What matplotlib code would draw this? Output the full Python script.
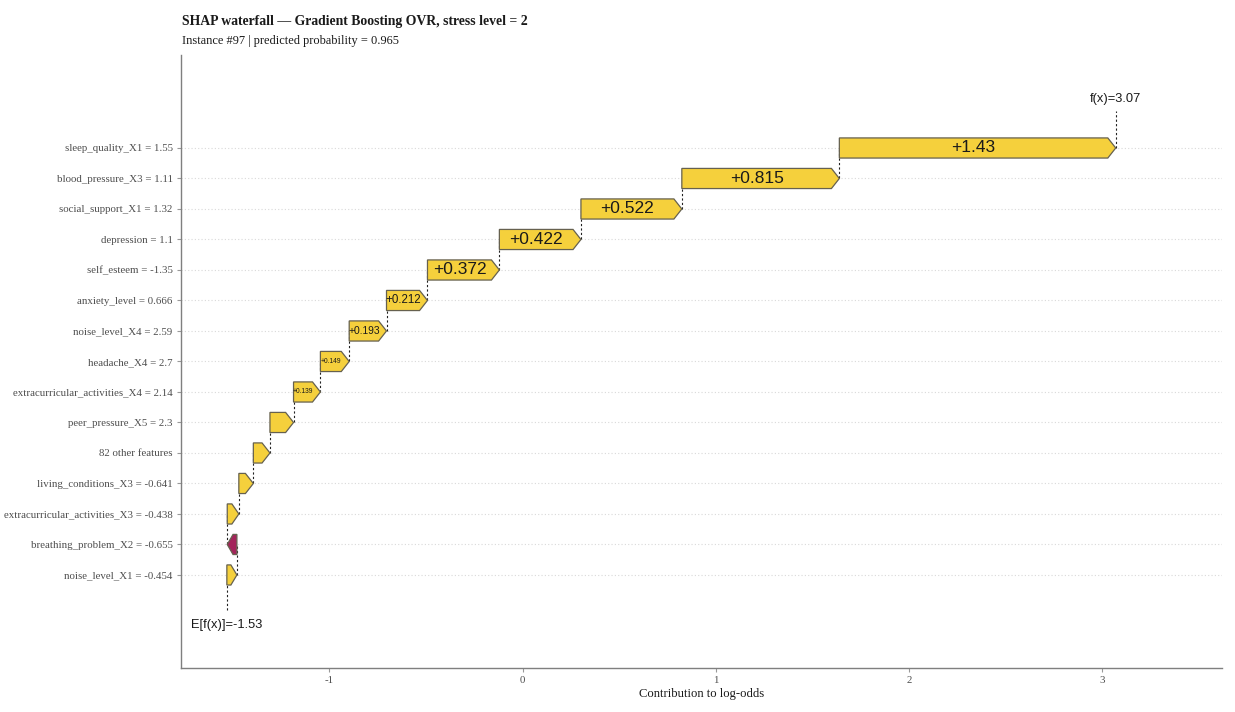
import matplotlib
matplotlib.use("Agg")
import matplotlib.pyplot as plt
from matplotlib.patches import Polygon

# ---- data (bottom -> top) ----
features = [
    "noise_level_X1 = -0.454",
    "breathing_problem_X2 = -0.655",
    "extracurricular_activities_X3 = -0.438",
    "living_conditions_X3 = -0.641",
    "82 other features",
    "peer_pressure_X5 = 2.3",
    "extracurricular_activities_X4 = 2.14",
    "headache_X4 = 2.7",
    "noise_level_X4 = 2.59",
    "anxiety_level = 0.666",
    "self_esteem = -1.35",
    "depression = 1.1",
    "social_support_X1 = 1.32",
    "blood_pressure_X3 = 1.11",
    "sleep_quality_X1 = 1.55",
]
shap_values = [0.052, -0.05, 0.06, 0.075, 0.086, 0.122, 0.139, 0.149,
               0.193, 0.212, 0.372, 0.422, 0.522, 0.815, 1.43]
label_texts = ["", "", "", "", "", "", "+0.139", "+0.149",
               "+0.193", "+0.212", "+0.372", "+0.422", "+0.522", "+0.815", "+1.43"]
label_sizes = [0, 0, 0, 0, 0, 0, 4.8, 4.8, 7.4, 8.3, 12.5, 12.5, 12.5, 12.5, 12.5]
base_value = -1.53
fx_value = 3.07
x_ticks = [-1, 0, 1, 2, 3]

POS = "#F5D03C"
NEG = "#A3245B"
EDGE = "#66614f"

fig = plt.figure(figsize=(12.35, 7.12), dpi=100)
ax = fig.add_axes([0.1466, 0.0618, 0.8429, 0.861])
ax.set_xlim(-1.767, 3.619)
ax.set_ylim(-2.05, 18.05)

ys = list(range(1, len(features) + 1))
h = 0.66
head_max = 0.041

# gridlines
for y in ys:
    ax.axhline(y, color="#d9d9d9", lw=0.8, ls=(0, (1, 2)), zorder=0)

cum = base_value
ends = []
for y, v, lab, fs in zip(ys, shap_values, label_texts, label_sizes):
    start, end = cum, cum + v
    length = abs(v)
    hl = min(head_max, 0.6 * length)
    d = 1 if v >= 0 else -1
    shoulder = end - d * hl
    poly = Polygon([(start, y - h / 2), (shoulder, y - h / 2), (end, y),
                    (shoulder, y + h / 2), (start, y + h / 2)],
                   closed=True, facecolor=POS if v >= 0 else NEG,
                   edgecolor=EDGE, lw=0.9, zorder=3)
    ax.add_patch(poly)
    if lab:
        ax.text((start + shoulder) / 2, y, lab, ha="center", va="center",
                fontsize=fs, family="Liberation Sans", color="#1a1a1a", zorder=4)
    ends.append(end)
    cum = end

# connectors
ax.plot([base_value, base_value], [-0.15, ys[0]], color="#222222", lw=0.8,
        ls=(0, (2, 2)), zorder=2)
for i in range(len(ys) - 1):
    ax.plot([ends[i], ends[i]], [ys[i], ys[i + 1]], color="#222222", lw=0.8,
            ls=(0, (2, 2)), zorder=2)
ax.plot([ends[-1], ends[-1]], [ys[-1], 16.2], color="#222222", lw=0.8,
        ls=(0, (2, 2)), zorder=2)

ax.text(base_value, -0.64, f"E[f(x)]={base_value}", ha="center", va="center",
        fontsize=9.3, family="Liberation Sans", color="#1a1a1a")
ax.text(ends[-1], 16.6, f"f(x)={fx_value}", ha="center", va="center",
        fontsize=9.3, family="Liberation Sans", color="#1a1a1a")

ax.set_yticks(ys)
ax.set_yticklabels(features, family="Liberation Serif", fontsize=7.8, color="#4d4d4d")
ax.set_xticks(x_ticks)
ax.set_xticklabels([str(t) for t in x_ticks], family="Liberation Serif",
                   fontsize=7.8, color="#4d4d4d")
ax.tick_params(axis="both", colors="#999999", length=3, width=0.8,
               labelcolor="#4d4d4d", pad=3)
ax.set_xlabel("Contribution to log-odds", family="Liberation Serif",
              fontsize=9.1, color="#1a1a1a", labelpad=2)
for s in ["top", "right"]:
    ax.spines[s].set_visible(False)
for s in ["left", "bottom"]:
    ax.spines[s].set_color("#7f7f7f")
    ax.spines[s].set_linewidth(1.0)

fig.text(0.1474, 1 - 21 / 712, "SHAP waterfall \u2014 Gradient Boosting OVR, stress level = 2",
         family="Liberation Serif", fontweight="bold", fontsize=9.9,
         ha="left", va="center", color="#1a1a1a")
fig.text(0.1474, 1 - 41 / 712, "Instance #97 | predicted probability = 0.965",
         family="Liberation Serif", fontsize=8.9, ha="left", va="center",
         color="#1a1a1a")

fig.savefig("out.png", dpi=100)
